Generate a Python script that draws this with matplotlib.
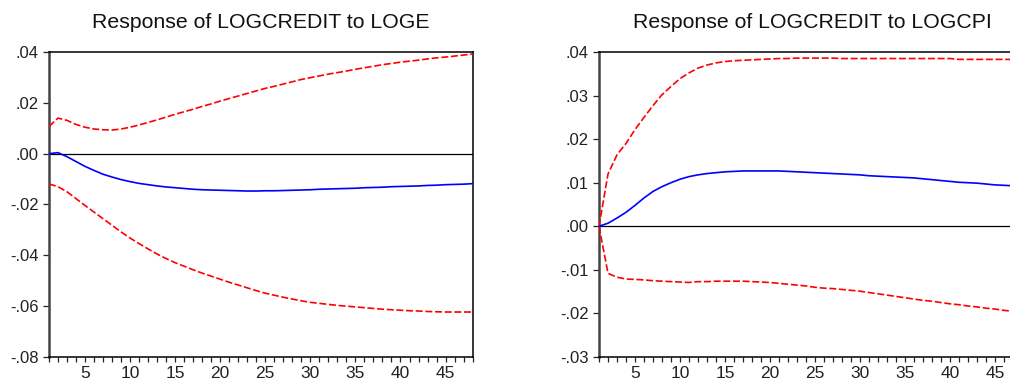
import matplotlib
matplotlib.use("Agg")
import matplotlib.pyplot as plt
from matplotlib.ticker import FuncFormatter, FixedLocator

plt.rcParams['font.family'] = ['Liberation Sans', 'DejaVu Sans']

periods = list(range(1, 49))

titles = ["Response of LOGCREDIT to LOGE", "Response of LOGCREDIT to LOGCPI"]

loge_resp = [0.0000, 0.0004, -0.0012, -0.0031, -0.0050, -0.0066, -0.0081, -0.0092, -0.0102, -0.0110,
             -0.0117, -0.0122, -0.0127, -0.0131, -0.0134, -0.0137, -0.0140, -0.0142, -0.0143, -0.0144,
             -0.0145, -0.0146, -0.0147, -0.0147, -0.0146, -0.0146, -0.0145, -0.0144, -0.0143, -0.0142,
             -0.0140, -0.0139, -0.0138, -0.0137, -0.0136, -0.0134, -0.0133, -0.0132, -0.0130, -0.0129,
             -0.0128, -0.0127, -0.0125, -0.0124, -0.0122, -0.0121, -0.0120, -0.0118]
loge_upper = [0.0107, 0.0140, 0.0131, 0.0115, 0.0104, 0.0097, 0.0094, 0.0093, 0.0097, 0.0104,
              0.0113, 0.0123, 0.0133, 0.0144, 0.0155, 0.0165, 0.0175, 0.0186, 0.0196, 0.0207,
              0.0217, 0.0227, 0.0237, 0.0247, 0.0257, 0.0265, 0.0274, 0.0283, 0.0292, 0.0299,
              0.0306, 0.0313, 0.0319, 0.0325, 0.0332, 0.0338, 0.0344, 0.0350, 0.0355, 0.0360,
              0.0364, 0.0368, 0.0373, 0.0377, 0.0380, 0.0384, 0.0388, 0.0392]
loge_lower = [-0.0119, -0.0130, -0.0150, -0.0177, -0.0204, -0.0230, -0.0256, -0.0282, -0.0308, -0.0332,
              -0.0354, -0.0375, -0.0395, -0.0413, -0.0429, -0.0443, -0.0457, -0.0470, -0.0482, -0.0494,
              -0.0506, -0.0517, -0.0528, -0.0539, -0.0549, -0.0557, -0.0565, -0.0572, -0.0579, -0.0585,
              -0.0589, -0.0593, -0.0597, -0.0600, -0.0603, -0.0606, -0.0609, -0.0612, -0.0614, -0.0616,
              -0.0618, -0.0619, -0.0621, -0.0622, -0.0623, -0.0623, -0.0623, -0.0623]

cpi_resp = [0.0000, 0.0007, 0.0019, 0.0032, 0.0048, 0.0065, 0.0080, 0.0091, 0.0100, 0.0108,
            0.0114, 0.0118, 0.0121, 0.0123, 0.0125, 0.0126, 0.0127, 0.0127, 0.0127, 0.0127,
            0.0127, 0.0126, 0.0125, 0.0124, 0.0123, 0.0122, 0.0121, 0.0120, 0.0119, 0.0118,
            0.0116, 0.0115, 0.0114, 0.0113, 0.0112, 0.0111, 0.0109, 0.0107, 0.0105, 0.0103,
            0.0101, 0.0100, 0.0099, 0.0097, 0.0095, 0.0094, 0.0093, 0.0092]
cpi_upper = [0.0000, 0.0120, 0.0164, 0.0190, 0.0222, 0.0250, 0.0277, 0.0302, 0.0321, 0.0339,
             0.0352, 0.0363, 0.0370, 0.0375, 0.0378, 0.0380, 0.0381, 0.0382, 0.0383, 0.0384,
             0.0385, 0.0385, 0.0386, 0.0386, 0.0386, 0.0386, 0.0386, 0.0385, 0.0385, 0.0385,
             0.0385, 0.0385, 0.0385, 0.0385, 0.0385, 0.0385, 0.0385, 0.0385, 0.0385, 0.0385,
             0.0383, 0.0383, 0.0383, 0.0383, 0.0383, 0.0383, 0.0383, 0.0383]
cpi_lower = [0.0000, -0.0108, -0.0117, -0.0121, -0.0122, -0.0123, -0.0125, -0.0126, -0.0127, -0.0128,
             -0.0129, -0.0127, -0.0127, -0.0126, -0.0126, -0.0126, -0.0126, -0.0127, -0.0128, -0.0129,
             -0.0131, -0.0133, -0.0135, -0.0137, -0.0140, -0.0142, -0.0143, -0.0145, -0.0147, -0.0149,
             -0.0152, -0.0155, -0.0158, -0.0161, -0.0164, -0.0167, -0.0170, -0.0172, -0.0175, -0.0178,
             -0.0180, -0.0183, -0.0185, -0.0188, -0.0190, -0.0193, -0.0195, -0.0197]

left_yticks = [-0.08, -0.06, -0.04, -0.02, 0.00, 0.02, 0.04]
right_yticks = [-0.03, -0.02, -0.01, 0.00, 0.01, 0.02, 0.03, 0.04]

W, H = 1010, 382
fig = plt.figure(figsize=(W / 100, H / 100), dpi=100)

def fmt(v, pos):
    s = f"{v:.2f}"
    s = s.replace("0.", ".", 1)
    return s

def xfmt(v, pos):
    i = int(round(v))
    return str(i) if i % 5 == 0 else ""

def panel(rect, resp, upper, lower, yticks, title, title_cx):
    ax = fig.add_axes(rect)
    ax.axhline(0, color='black', lw=0.9, zorder=1)
    dash = (0, (4.2, 1.6))
    ax.plot(periods, upper, color='#ff0000', lw=1.2, linestyle=dash, zorder=3)
    ax.plot(periods, lower, color='#ff0000', lw=1.2, linestyle=dash, zorder=3)
    ax.plot(periods, resp, color='#0000ff', lw=1.2, zorder=4)
    ax.set_xlim(1, 48)
    ax.set_ylim(yticks[0], yticks[-1])
    ax.yaxis.set_major_locator(FixedLocator(yticks))
    ax.yaxis.set_major_formatter(FuncFormatter(fmt))
    ax.xaxis.set_major_locator(FixedLocator(periods))
    ax.xaxis.set_major_formatter(FuncFormatter(xfmt))
    ax.tick_params(axis='y', direction='out', length=4.3, width=0.9, labelsize=12, pad=3, colors='#222222')
    ax.tick_params(axis='x', direction='out', length=3.6, width=0.9, labelsize=12.5, pad=3, colors='#222222')
    for side, sp in ax.spines.items():
        sp.set_color('black')
        sp.set_linewidth(1.1)
    ax.spines['left'].set_color('#444444')
    ax.spines['left'].set_linewidth(1.8)
    fig.text(title_cx / W, 1 - 28 / H, title, ha='center', va='baseline', fontsize=15.3, color='#111111')
    return ax

panel([49 / W, 25 / H, (472.6 - 49) / W, 305 / H], loge_resp, loge_upper, loge_lower,
      left_yticks, titles[0], 261)
panel([599 / W, 25 / H, (1022 - 599) / W, 305 / H], cpi_resp, cpi_upper, cpi_lower,
      right_yticks, titles[1], 812)

fig.savefig("out.png", dpi=100)
